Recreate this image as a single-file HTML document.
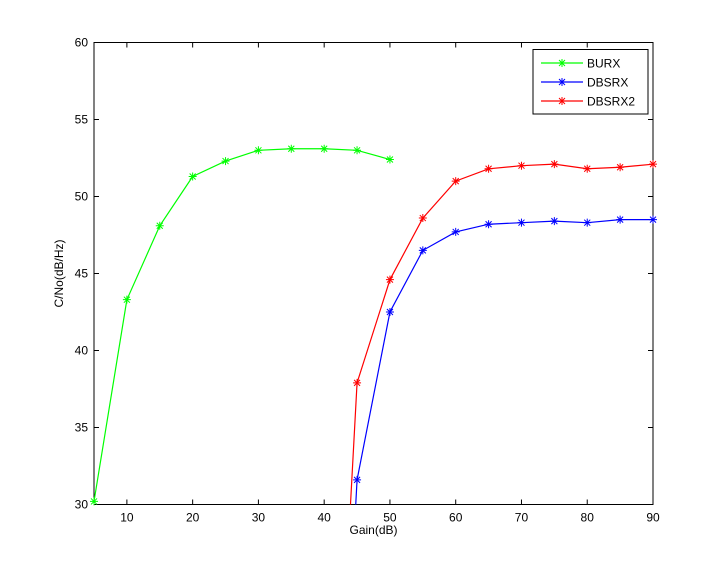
<!DOCTYPE html><html><head><style>body{margin:0;background:#fff}svg{display:block}text{font-family:"Liberation Sans",sans-serif;font-size:12px;fill:#000}</style></head><body>
<svg id="s" width="720" height="567" xmlns="http://www.w3.org/2000/svg"></svg>
<script>
const s=document.getElementById('s');
const L=94,R=653,T=42.5,B=504.5;
const X=v=>L+(v-5)*(R-L)/85, Y=v=>B-(v-30)*(B-T)/30;
let h='<rect x="0" y="0" width="720" height="567" fill="#fff"/>';
h+=`<rect x="${L}" y="${T}" width="${R-L}" height="${B-T}" fill="none" stroke="#000" stroke-width="1"/>`;
for(let v=10;v<=90;v+=10){const x=X(v);h+=`<line x1="${x}" y1="${B}" x2="${x}" y2="${B-5}" stroke="#000"/><line x1="${x}" y1="${T}" x2="${x}" y2="${T+5}" stroke="#000"/><text x="${x}" y="${B+17}" text-anchor="middle">${v}</text>`;}
for(let v=30;v<=60;v+=5){const y=Y(v);h+=`<line x1="${L}" y1="${y}" x2="${L+5}" y2="${y}" stroke="#000"/><line x1="${R}" y1="${y}" x2="${R-5}" y2="${y}" stroke="#000"/><text x="${L-6}" y="${y+4}" text-anchor="end">${v}</text>`;}
h+=`<text x="${(L+R)/2}" y="534" text-anchor="middle">Gain(dB)</text>`;
h+=`<text transform="translate(63,${(T+B)/2}) rotate(-90)" text-anchor="middle">C/No(dB/Hz)</text>`;
function star(x,y,c){return `<path d="M${x-4} ${y}H${x+4}M${x} ${y-4}V${y+4}M${x-3} ${y-3}L${x+3} ${y+3}M${x-3} ${y+3}L${x+3} ${y-3}" stroke="${c}" stroke-width="1"/>`;}
function series(d,c,start){let pts=d.map(p=>[X(p[0]),Y(p[1])]);if(start)pts.unshift([X(start),B]);
h+=`<g clip-path="url(#c)"><polyline points="${pts.map(p=>p.join(',')).join(' ')}" fill="none" stroke="${c}" stroke-width="1.2"/></g>`;d.forEach(p=>h+=star(X(p[0]),Y(p[1]),c));}
h+=`<defs><clipPath id="c"><rect x="${L}" y="${T}" width="${R-L}" height="${B-T}"/></clipPath></defs>`;
series([[5,30.2],[10,43.3],[15,48.1],[20,51.3],[25,52.3],[30,53.0],[35,53.1],[40,53.1],[45,53.0],[50,52.4]],'#00ff00');
series([[45,31.6],[50,42.5],[55,46.5],[60,47.7],[65,48.2],[70,48.3],[75,48.4],[80,48.3],[85,48.5],[90,48.5]],'#0000ff',44.8);
series([[45,37.9],[50,44.6],[55,48.6],[60,51.0],[65,51.8],[70,52.0],[75,52.1],[80,51.8],[85,51.9],[90,52.1]],'#ff0000',44.0);
h+=`<rect x="533" y="49.5" width="115" height="64.5" fill="#fff" stroke="#000"/>`;
[['BURX','#00ff00',63],['DBSRX','#0000ff',82],['DBSRX2','#ff0000',101]].forEach(([t,c,y])=>{h+=`<line x1="541" y1="${y}" x2="583" y2="${y}" stroke="${c}" stroke-width="1.2"/>`+star(562,y,c)+`<text x="587" y="${y+4.5}">${t}</text>`;});
s.innerHTML=h;
</script></body></html>
